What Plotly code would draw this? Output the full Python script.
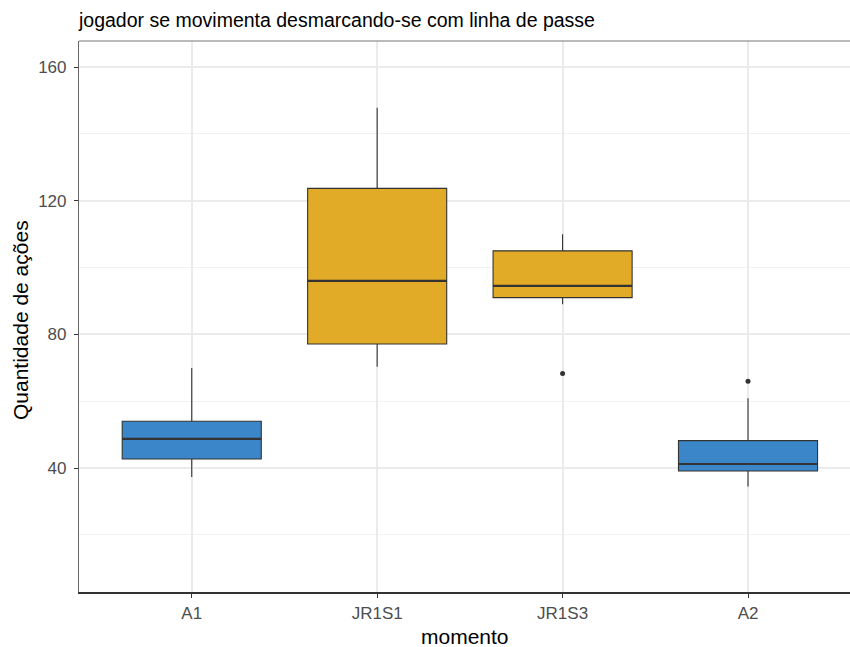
import plotly.graph_objects as go

categories = ["A1", "JR1S1", "JR1S3", "A2"]
lower_whisker = [37.3, 70.3, 89.0, 34.5]
q1 = [42.7, 77.1, 91.0, 39.1]
median = [48.7, 96.0, 94.5, 41.2]
q3 = [54.0, 123.7, 105.0, 48.2]
upper_whisker = [69.9, 147.8, 110.0, 60.9]
outlier_cat = ["JR1S3", "A2"]
outlier_val = [68.3, 66.0]
fill_colors = ["#3A86C9", "#E2AB27", "#E2AB27", "#3A86C9"]

box_width = 0.75
fig = go.Figure()
for i, c in enumerate(categories):
    fig.add_trace(go.Box(
        x=[i], q1=[q1[i]], median=[median[i]], q3=[q3[i]],
        lowerfence=[lower_whisker[i]], upperfence=[upper_whisker[i]],
        width=box_width, whiskerwidth=0, fillcolor=fill_colors[i],
        line=dict(color="#333333", width=1.1), boxpoints=False,
        showlegend=False, hoverinfo="skip"))
    fig.add_trace(go.Scatter(
        x=[i - box_width / 2, i + box_width / 2], y=[median[i], median[i]],
        mode="lines", line=dict(color="#333333", width=2.2),
        showlegend=False, hoverinfo="skip"))

fig.add_trace(go.Scatter(
    x=[categories.index(c) for c in outlier_cat], y=outlier_val,
    mode="markers", marker=dict(color="#333333", size=5),
    showlegend=False, hoverinfo="skip"))

fig.add_shape(type="line", xref="paper", yref="paper", x0=0, x1=1, y0=1, y1=1,
              line=dict(color="#777777", width=1.2))

fig.add_annotation(text="momento", xref="paper", yref="paper", x=0.5, y=-44/551,
                   yanchor="middle", xanchor="center", showarrow=False,
                   font=dict(size=21, color="#000000"))
fig.add_annotation(text="Quantidade de ações", xref="paper", yref="paper",
                   x=-59/771, y=(592 - 320) / 551, xanchor="center", yanchor="middle",
                   textangle=-90, showarrow=False,
                   font=dict(size=21, color="#000000"))

fig.update_layout(
    width=850, height=647,
    margin=dict(l=79, r=0, t=41, b=55, autoexpand=False),
    paper_bgcolor="white", plot_bgcolor="white",
    font=dict(family="Liberation Sans, Arial, sans-serif", color="#000000"),
    title=dict(text="jogador se movimenta desmarcando-se com linha de passe",
               x=79/850, xanchor="left", xref="container",
               y=1 - 20/647, yanchor="middle", yref="container",
               font=dict(size=19.5, color="#000000")),
    xaxis=dict(
        range=[-0.608, 3.55], tickmode="array", automargin=False,
        tickvals=list(range(len(categories))), ticktext=categories,
        showgrid=True, gridcolor="#EBEBEB", gridwidth=1.6,
        zeroline=False, showline=True, linecolor="#333333", linewidth=2.2,
        ticks="outside", ticklen=4, tickcolor="#333333", tickwidth=1.2,
        tickfont=dict(size=17, color="#4D4D4D"),
    ),
    yaxis=dict(
        range=[2.9, 167.8], tickvals=[40, 80, 120, 160], automargin=False,
        showgrid=True, gridcolor="#EBEBEB", gridwidth=1.6,
        minor=dict(tickvals=[20, 60, 100, 140], showgrid=True,
                   gridcolor="#F2F2F2", gridwidth=1),
        zeroline=False, showline=True, linecolor="#666666", linewidth=1.2,
        ticks="outside", ticklen=4, tickcolor="#333333", tickwidth=1.2,
        ticklabelstandoff=4,
        tickfont=dict(size=17, color="#4D4D4D"),
    ),
)

fig.write_html("out.html", config={"displayModeBar": False},
               post_script="document.body.style.margin='0';document.body.style.overflow='hidden';")
